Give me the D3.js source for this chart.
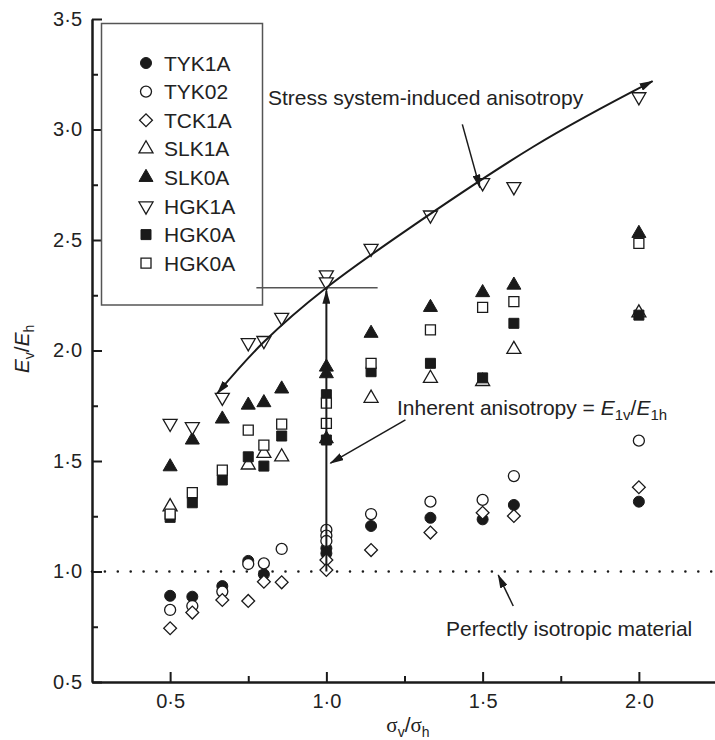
<!DOCTYPE html>
<html>
<head>
<meta charset="utf-8">
<script src="https://cdn.jsdelivr.net/npm/d3@7"></script>
<style>
body { margin: 0; background: #fff; }
text { font-family: "Liberation Sans", Arial, sans-serif; fill: #222; }
</style>
</head>
<body>
<svg width="715" height="740"></svg>
<script>
// sigma_v/sigma_h, E_v/E_h pairs
var tyk1a = [[0.5,0.89],[0.571,0.886],[0.667,0.934],[0.75,1.048],[0.8,0.987],[1.0,1.105],[1.0,1.082],[1.143,1.206],[1.333,1.243],[1.5,1.236],[1.6,1.301],[2.0,1.316]];
var tyk02 = [[0.5,0.826],[0.571,0.844],[0.667,0.909],[0.75,1.034],[0.8,1.037],[0.857,1.102],[1.0,1.188],[1.0,1.162],[1.0,1.138],[1.143,1.26],[1.333,1.316],[1.5,1.324],[1.6,1.432],[2.0,1.592]];
var tck1a = [[0.5,0.743],[0.571,0.814],[0.667,0.871],[0.75,0.867],[0.8,0.954],[0.857,0.951],[1.0,1.052],[1.0,1.007],[1.143,1.097],[1.333,1.176],[1.5,1.266],[1.6,1.251],[2.0,1.381]];
var slk1a = [[0.5,1.293],[0.75,1.482],[0.8,1.535],[0.857,1.519],[1.143,1.784],[1.333,1.874],[1.5,1.86],[1.6,2.005],[2.0,2.17]];
var slk0a = [[0.5,1.474],[0.571,1.595],[0.667,1.69],[0.75,1.753],[0.8,1.764],[0.857,1.826],[1.0,1.925],[1.0,1.895],[1.0,1.6],[1.143,2.078],[1.333,2.195],[1.5,2.262],[1.6,2.296],[2.0,2.53]];
var hgk1a = [[0.5,1.67],[0.571,1.655],[0.667,1.788],[0.75,2.035],[0.8,2.045],[0.857,2.15],[1.0,2.342],[1.0,2.31],[1.143,2.462],[1.333,2.613],[1.5,2.759],[1.6,2.741],[2.0,3.148]];
var hgk0aFilled = [[0.5,1.245],[0.571,1.311],[0.667,1.414],[0.75,1.519],[0.8,1.477],[0.857,1.613],[1.0,1.8],[1.0,1.595],[1.143,1.904],[1.333,1.942],[1.5,1.876],[1.6,2.123],[2.0,2.16]];
var hgk0aOpen = [[0.5,1.26],[0.571,1.357],[0.667,1.459],[0.75,1.64],[0.8,1.572],[0.857,1.667],[1.0,1.762],[1.0,1.67],[1.143,1.942],[1.333,2.093],[1.5,2.195],[1.6,2.221],[2.0,2.485]];

var seriesNames = ["TYK1A", "TYK02", "TCK1A", "SLK1A", "SLK0A", "HGK1A", "HGK0A", "HGK0A"];
var seriesData = [tyk1a, tyk02, tck1a, slk1a, slk0a, hgk1a, hgk0aFilled, hgk0aOpen];
var seriesShape = ["circle", "circle", "diamond", "up", "up", "down", "square", "square"];
var seriesFilled = [true, false, false, false, true, false, true, false];

var xTicks = [0.5, 1.0, 1.5, 2.0];
var xMinor = [0.75, 1.25, 1.75];
var yTicks = [0.5, 1.0, 1.5, 2.0, 2.5, 3.0, 3.5];
var yMinor = [0.75, 1.25, 1.75, 2.25, 2.75, 3.25];

// annotation guides (data space)
var stressCurve = [[0.651,1.806],[0.798,2.036],[1.0,2.284],[1.257,2.545],[1.662,2.922],[2.044,3.219]];
var inherentLine = [[1.0,1.0],[1.0,2.27]];
var levelLine = [[0.776,2.284],[1.164,2.284]];
var stressPointer = [[1.435,3.023],[1.491,2.737]];
var inherentPointer = [[1.253,1.686],[1.013,1.49]];
var isoPointer = [[1.598,0.844],[1.55,0.984]];

var svg = d3.select("svg");

var x = d3.scaleLinear().domain([0.25, 2.25]).range([92, 717]);
var y = d3.scaleLinear().domain([0.5, 3.5]).range([682, 19]);

var fmt = function(d) { return d.toFixed(1).replace(".", "\u00b7"); };

svg.append("defs").append("marker")
    .attr("id", "head")
    .attr("viewBox", "0 0 14 8")
    .attr("refX", 13)
    .attr("refY", 4)
    .attr("markerWidth", 14)
    .attr("markerHeight", 8)
    .attr("markerUnits", "userSpaceOnUse")
    .attr("orient", "auto-start-reverse")
  .append("path")
    .attr("d", "M0,0L14,4L0,8Z")
    .attr("fill", "#1a1a1a");

// axes
var gy = svg.append("g").attr("transform", "translate(92,0)");
gy.call(d3.axisLeft(y).tickValues(yTicks).tickFormat(fmt).tickSize(-10).tickSizeOuter(0).tickPadding(10));
gy.append("g").call(d3.axisLeft(y).tickValues(yMinor).tickFormat("").tickSize(-6).tickSizeOuter(0));

var gx = svg.append("g").attr("transform", "translate(0,682)");
gx.call(d3.axisBottom(x).tickValues(xTicks).tickFormat(fmt).tickSize(-10).tickSizeOuter(0).tickPadding(12));
gx.append("g").call(d3.axisBottom(x).tickValues(xMinor).tickFormat("").tickSize(-6).tickSizeOuter(0));

svg.selectAll(".domain").attr("stroke", "#1a1a1a").attr("stroke-width", 2);
svg.selectAll(".tick line").attr("stroke", "#1a1a1a").attr("stroke-width", 2);
svg.selectAll(".tick text").attr("font-size", 20).attr("fill", "#222")
    .attr("font-family", "Liberation Sans, Arial, sans-serif");

// axis titles
var yl = svg.append("text")
    .attr("transform", "translate(29,349) rotate(-90)")
    .attr("text-anchor", "middle")
    .attr("font-size", 21);
yl.append("tspan").attr("font-style", "italic").text("E");
yl.append("tspan").attr("font-size", 14).attr("dy", 5).text("v");
yl.append("tspan").attr("dy", -5).text("/");
yl.append("tspan").attr("font-style", "italic").text("E");
yl.append("tspan").attr("font-size", 14).attr("dy", 5).text("h");

var xl = svg.append("text")
    .attr("x", 408).attr("y", 732)
    .attr("text-anchor", "middle")
    .attr("font-size", 21);
xl.append("tspan").attr("font-family", "Liberation Serif, serif").text("\u03c3");
xl.append("tspan").attr("font-size", 14).attr("dy", 5).text("v");
xl.append("tspan").attr("dy", -5).text("/");
xl.append("tspan").attr("font-family", "Liberation Serif, serif").text("\u03c3");
xl.append("tspan").attr("font-size", 14).attr("dy", 5).text("h");

// isotropic reference line
svg.append("line")
    .attr("x1", x(0.25)).attr("x2", x(2.25))
    .attr("y1", y(1.0)).attr("y2", y(1.0))
    .attr("stroke", "#1a1a1a")
    .attr("stroke-width", 2.6)
    .attr("stroke-linecap", "round")
    .attr("stroke-dasharray", "0,12.9");

function symbolPath(shape) {
    if (shape === "circle") return d3.symbol(d3.symbolCircle, 95)();
    if (shape === "square") return d3.symbol(d3.symbolSquare, 100)();
    if (shape === "diamond") return d3.symbol(d3.symbolSquare, 82)();
    return d3.symbol(d3.symbolTriangle, 85)();
}
function symbolRotate(shape) {
    if (shape === "diamond") return " rotate(45)";
    if (shape === "down") return " rotate(180)";
    return "";
}
function styleMark(sel, i) {
    sel.attr("d", symbolPath(seriesShape[i]))
        .attr("fill", seriesFilled[i] ? "#1a1a1a" : "#fff")
        .attr("stroke", "#1a1a1a")
        .attr("stroke-width", seriesFilled[i] ? 1 : 1.3);
}

// data points
seriesData.forEach(function(data, i) {
    svg.append("g").selectAll("path")
        .data(data)
        .enter().append("path")
        .attr("transform", function(d) { return "translate(" + x(d[0]) + "," + y(d[1]) + ")" + symbolRotate(seriesShape[i]); })
        .call(styleMark, i);
});

// guides
var line = d3.line().x(function(d) { return x(d[0]); }).y(function(d) { return y(d[1]); });

svg.append("path")
    .attr("d", line(levelLine))
    .attr("fill", "none").attr("stroke", "#555").attr("stroke-width", 1.5);

svg.append("path")
    .attr("d", line.curve(d3.curveNatural)(stressCurve))
    .attr("fill", "none").attr("stroke", "#1a1a1a").attr("stroke-width", 2)
    .attr("marker-start", "url(#head)").attr("marker-end", "url(#head)");
line.curve(d3.curveLinear);

svg.append("path")
    .attr("d", line(inherentLine))
    .attr("fill", "none").attr("stroke", "#1a1a1a").attr("stroke-width", 2)
    .attr("marker-end", "url(#head)");

[stressPointer, inherentPointer, isoPointer].forEach(function(p) {
    svg.append("path")
        .attr("d", line(p))
        .attr("fill", "none").attr("stroke", "#1a1a1a").attr("stroke-width", 1.5)
        .attr("marker-end", "url(#head)");
});

// annotation texts
svg.append("text").attr("x", 268).attr("y", 105).attr("font-size", 21)
    .text("Stress system-induced anisotropy");

var inh = svg.append("text").attr("x", 397).attr("y", 415).attr("font-size", 21);
inh.append("tspan").text("Inherent anisotropy = ");
inh.append("tspan").attr("font-style", "italic").text("E");
inh.append("tspan").attr("font-size", 15).attr("dy", 5).text("1v");
inh.append("tspan").attr("dy", -5).text("/");
inh.append("tspan").attr("font-style", "italic").text("E");
inh.append("tspan").attr("font-size", 15).attr("dy", 5).text("1h");

svg.append("text").attr("x", 446).attr("y", 636).attr("font-size", 21)
    .text("Perfectly isotropic material");

// legend
svg.append("rect")
    .attr("x", 101.5).attr("y", 23.5).attr("width", 161).attr("height", 281.5)
    .attr("fill", "none").attr("stroke", "#555").attr("stroke-width", 1.5);

var legend = svg.append("g").selectAll("g")
    .data(seriesNames)
    .enter().append("g")
    .attr("transform", function(d, i) { return "translate(146," + (63 + i * 28.6) + ")"; });

legend.append("path")
    .attr("transform", function(d, i) { return symbolRotate(seriesShape[i]).trim(); })
    .each(function(d, i) { d3.select(this).call(styleMark, i); });

legend.append("text")
    .attr("x", 18)
    .attr("dy", "0.36em")
    .attr("font-size", 21)
    .text(function(d) { return d; });
</script>
</body>
</html>
